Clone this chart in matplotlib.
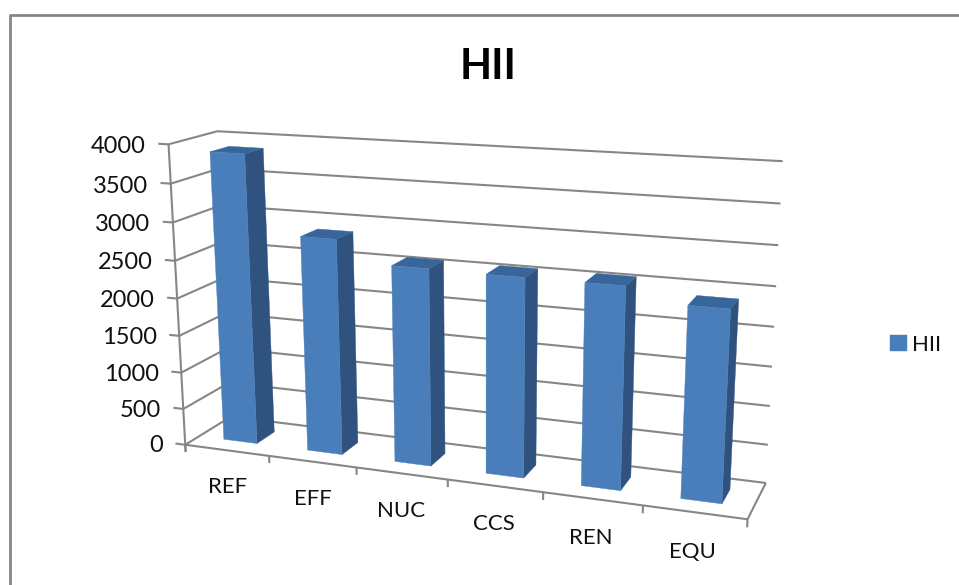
"""HII bar chart, faked 3D: a projective map from (category, value, depth) to image pixels."""
import numpy as np
import matplotlib
matplotlib.use("Agg")
import matplotlib.pyplot as plt
from matplotlib.patches import Polygon

categories = ["REF", "EFF", "NUC", "CCS", "REN", "EQU"]
values = [3870, 2860, 2580, 2570, 2570, 2400]
y_ticks = [0, 500, 1000, 1500, 2000, 2500, 3000, 3500, 4000]
series_name = "HII"

FRONT = "#4A7EBB"
SIDE = "#30527F"
TOP = "#38669B"
LINE = "#868686"
TEXT = "#111111"

# camera calibration: (slot, value, depth) -> pixel
world = np.array([
    (0, 0, 0), (0, 2000, 0), (0, 4000, 0), (0, 0, 1), (0, 4000, 1),
    (1, 0, 0), (2, 0, 0), (5, 0, 0), (6, 0, 0), (6, 0, 1),
    (6, 1000, 1), (6, 2000, 1), (6, 3000, 1), (6, 4000, 1)], float)
pixel = np.array([
    (185, 445), (177, 298), (169, 144), (231, 416), (217, 132),
    (269, 456.7), (357, 467.3), (643, 505.7), (747, 519), (766, 483),
    (770, 406), (774, 327), (778, 245), (783, 161)], float)


def fit_camera(w, p):
    """Direct linear transform, 3x4 matrix by least squares."""
    w = w / np.array([1, 1000, 1])
    rows = []
    for (x, y, z), (u, v) in zip(w, p):
        h = [x, y, z, 1]
        rows.append(h + [0, 0, 0, 0] + [-u * c for c in h])
        rows.append([0, 0, 0, 0] + h + [-v * c for c in h])
    return np.linalg.svd(np.array(rows))[2][-1].reshape(3, 4)


P = fit_camera(world, pixel)


def proj(x, y, z):
    q = P @ np.array([x, y / 1000, z, 1])
    return q[0] / q[2], q[1] / q[2]


def main():
    fig = plt.figure(figsize=(9.59, 5.85), dpi=100)
    ax = fig.add_axes([0, 0, 1, 1])
    ax.set_xlim(0, 959); ax.set_ylim(585, 0); ax.axis("off")
    plt.rcParams["font.family"] = ["Lato", "DejaVu Sans"]

    def line(*pts, lw=1.5):
        xy = np.array([proj(*p) for p in pts])
        ax.plot(xy[:, 0], xy[:, 1], color=LINE, lw=lw, solid_capstyle="butt", zorder=1)

    # outer chart frame
    ax.plot([9.5, 9.5, 959], [585, 14.5, 14.5], color=LINE, lw=2, zorder=1)

    # walls and floor
    n = len(categories)
    for v in y_ticks:
        line((-0.12, v, 0), (0, v, 0), (0, v, 1), (n, v, 1))
        tx, ty = proj(-0.27, v, 0)
        ax.text(tx, ty + 4, str(v), ha="right", va="center", fontsize=17, color=TEXT)
    line((0, -100, 0), (0, 4000, 0))
    line((0, 0, 0), (n, 0, 0), (n, 0, 1))
    for i in range(n + 1):
        line((i, 0, 0), (i, -100, 0))

    # bars
    w, d = 0.40, 0.40
    for i, (name, v) in enumerate(zip(categories, values)):
        x0, x1 = i + 0.5 - w / 2, i + 0.5 + w / 2
        z0, z1 = 0.5 - d / 2, 0.5 + d / 2
        front = [(x0, 0, z0), (x1, 0, z0), (x1, v, z0), (x0, v, z0)]
        side = [(x1, 0, z0), (x1, 0, z1), (x1, v, z1), (x1, v, z0)]
        top = [(x0, v, z0), (x1, v, z0), (x1, v, z1), (x0, v, z1)]
        for face, c in [(side, SIDE), (top, TOP), (front, FRONT)]:
            ax.add_patch(Polygon([proj(*p) for p in face], closed=True, fc=c, ec=c,
                                 lw=0.3, zorder=2 + i,
                                 label=series_name if (c == FRONT and i == 0) else None))
        tx, ty = proj(i + 0.5, -480, 0)
        ax.text(tx - 1, ty + 2, name, ha="center", va="center", fontsize=16, color=TEXT)

    ax.text(488, 67, series_name, ha="center", va="center", fontsize=30,
            fontweight="bold", color="black")
    ax.legend(loc="center left", bbox_to_anchor=(870 / 959, 1 - 345 / 585), frameon=False,
              fontsize=16, handlelength=0.75, handleheight=0.75, handletextpad=0.25,
              labelcolor=TEXT)
    fig.savefig("out.png", dpi=100)


if __name__ == "__main__":
    main()
